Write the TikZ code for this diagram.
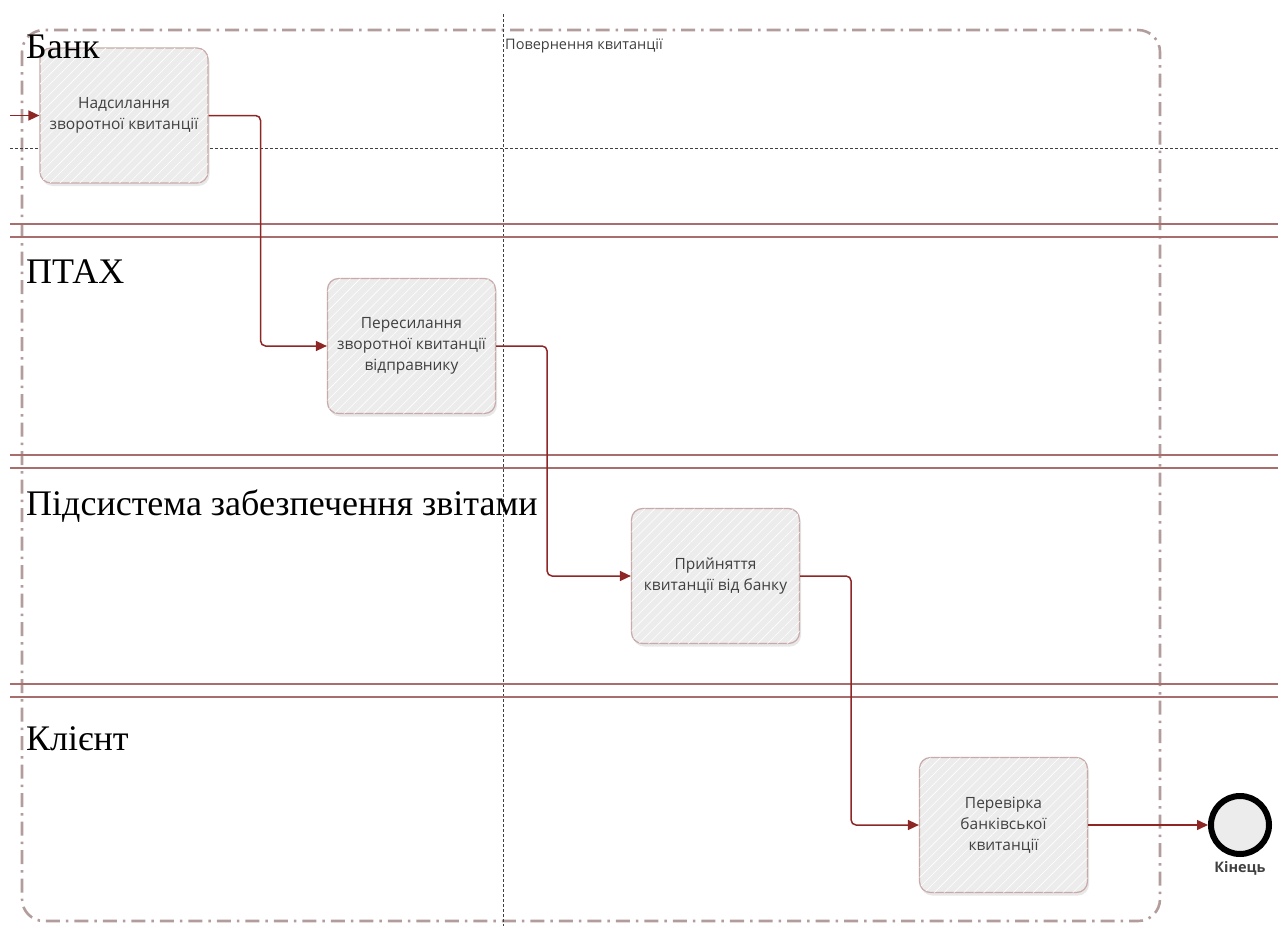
\documentclass[tikz,border=0pt]{standalone}
\usepackage{fontspec}
\setmainfont{Liberation Serif}
\newfontfamily\boxfont{Open Sans}
\usetikzlibrary{arrows.meta,shadows,patterns.meta}

\definecolor{flowred}{HTML}{8E2626}
\definecolor{lanered}{HTML}{A86E6E}
\definecolor{poolgray}{HTML}{B39C9C}
\definecolor{taskfill}{HTML}{ECECEC}
\definecolor{taskline}{HTML}{C9A9A9}
\definecolor{tasktext}{HTML}{404040}

\tikzset{
  task/.style={rectangle, rounded corners=11pt, draw=taskline, line width=1.2pt,
    fill=taskfill, minimum width=168pt, minimum height=135pt, align=center,
    text=tasktext, font=\boxfont\fontsize{15.5}{21}\selectfont, inner sep=2pt,
    drop shadow={opacity=0.18, shadow xshift=1.5pt, shadow yshift=-3pt},
    postaction={pattern={Lines[angle=45,distance=7pt,line width=0.6pt]}, pattern color=white}},
  endevent/.style={circle, draw=black, line width=6pt, fill=taskfill,
    minimum size=58pt, inner sep=0pt},
  flow/.style={draw=flowred, line width=1.5pt, rounded corners=5pt,
    -{Triangle[length=11pt,width=10pt]}},
  lanename/.style={anchor=base west, inner sep=0pt, font=\fontsize{36}{40}\selectfont},
  pool/.style={draw=poolgray, line width=2.6pt, rounded corners=22pt,
    dash pattern=on 14pt off 6pt on 2.5pt off 6pt},
  guide/.style={draw=black!75, line width=0.8pt, dash pattern=on 2.5pt off 2.5pt}
}

\NewDocumentCommand{\lanesep}{m}{%
\draw[lanered, line width=1.6pt] (10,#1) -- (1278,#1);%
\draw[lanered, line width=1.6pt] (10,#1+13) -- (1278,#1+13);%
}

\begin{document}
\begin{tikzpicture}[x=1pt, y=-1pt]
    \useasboundingbox (0,0) rectangle (1278,926);

    % pool and guides
    \draw[pool] (22,30) rectangle (1160,921);
    \draw[guide] (503,14) -- (503,926);
    \draw[guide] (10,148) -- (1278,148);
    \node[anchor=west, inner sep=0pt, text=tasktext,
      font=\boxfont\fontsize{14.5}{16}\selectfont] (phase) at (505,46) {Повернення квитанції};

    % lanes
    \lanesep{224}
    \lanesep{455}
    \lanesep{684}

    % tasks
    \node[task] (send) at (124,115.5) {Надсилання\\зворотної квитанції};
    \node[task] (forward) at (411.5,346) {Пересилання\\зворотної квитанції\\відправнику};
    \node[task] (accept) at (715.5,576) {Прийняття\\квитанції від банку};
    \node[task] (check) at (1003.5,825) {Перевірка\\банківської\\квитанції};
    \node[endevent, label={[text=tasktext, font=\boxfont\bfseries\fontsize{14.5}{16}\selectfont,
      yshift=-1pt]below:Кінець}] (finish) at (1240,825) {};

    % lane names
    \node[lanename] (bank) at (26,58) {Банк};
    \node[lanename] (ptah) at (26,283) {ПТАХ};
    \node[lanename] (pidsys) at (26,515) {Підсистема забезпечення звітами};
    \node[lanename] (client) at (26,750) {Клієнт};

    % flows
    \coordinate (in) at (10,115.5);
    \draw[flow] (in) -- (send);
    \draw[flow] (send.east) -- ++(52,0) |- (forward.west);
    \draw[flow] (forward.east) -- ++(51,0) |- (accept.west);
    \draw[flow] (accept.east) -- ++(51,0) |- (check.west);
    \draw[flow] (check) -- (finish);
\end{tikzpicture}
\end{document}
